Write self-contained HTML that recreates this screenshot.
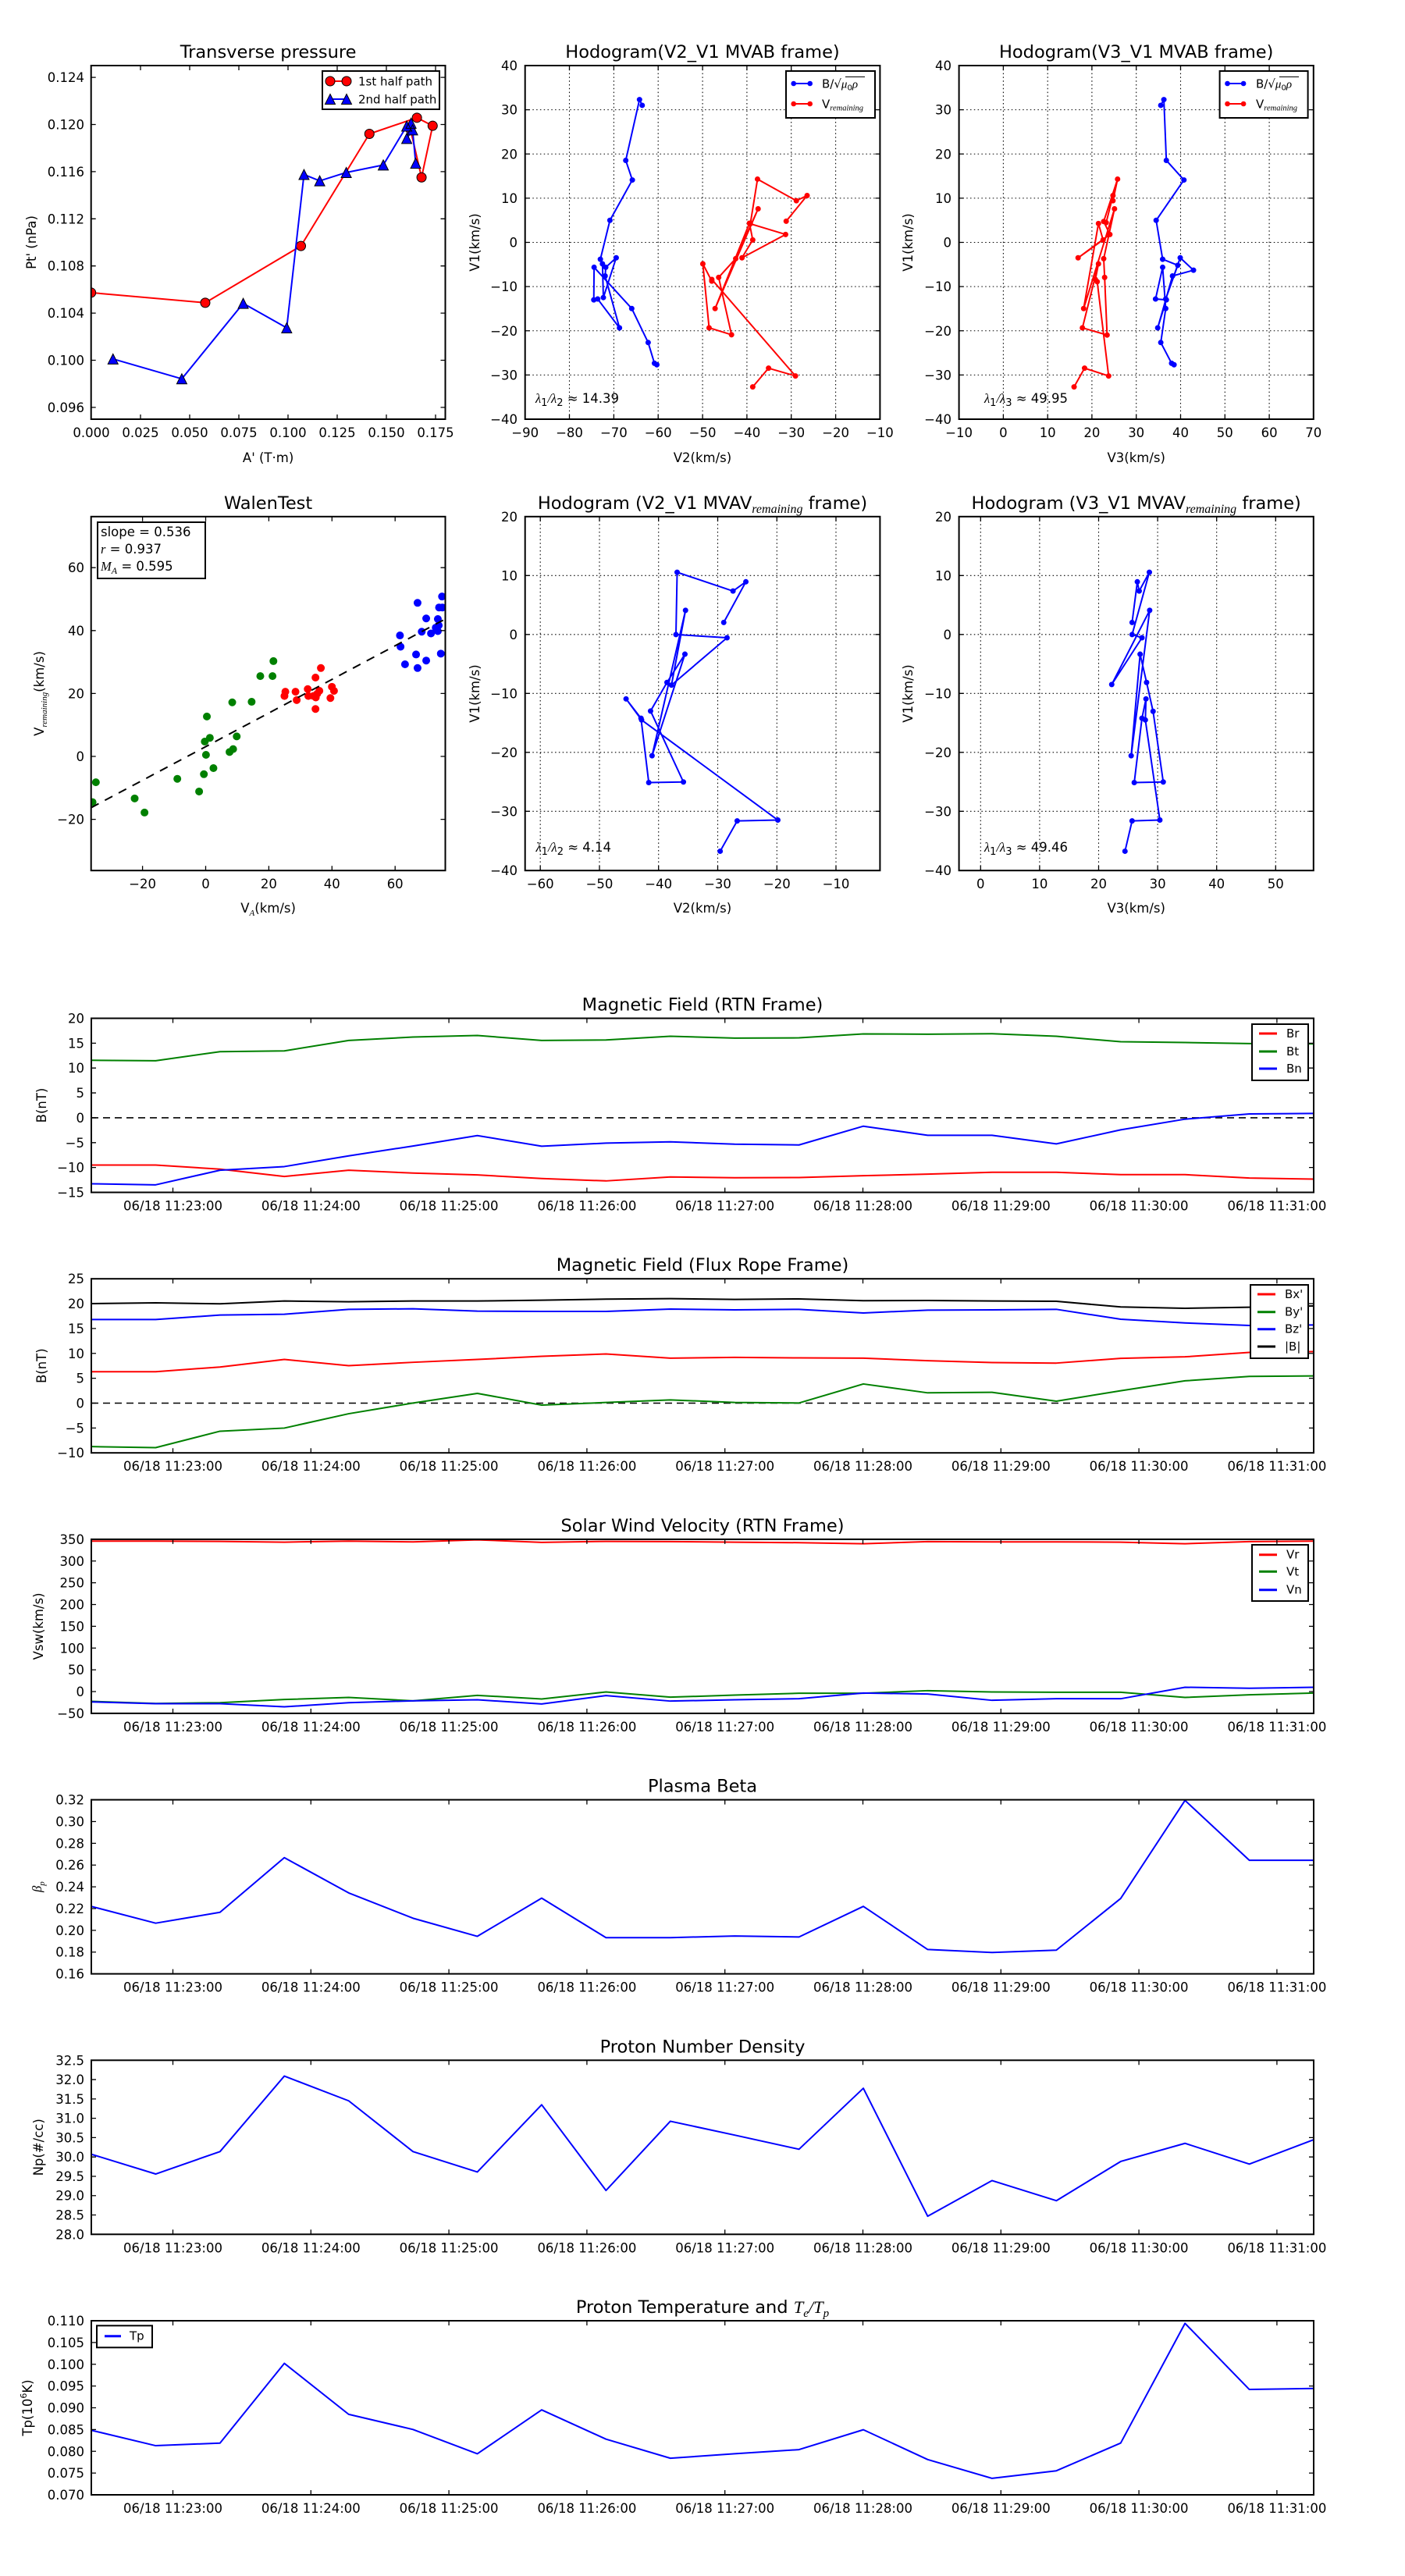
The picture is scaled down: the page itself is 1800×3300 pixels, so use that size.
<!DOCTYPE html>
<html><head><meta charset="utf-8">
<style>
html,body{margin:0;padding:0;background:#fff;}
svg{display:block;}
text{font-family:"DejaVu Sans","Liberation Sans",sans-serif;font-size:16.5px;fill:#000;}
.t{font-size:22.5px;text-anchor:middle;}
.xl{text-anchor:middle;}
.yl{text-anchor:end;}
.lg{font-size:15px;}
.m{font-family:"Liberation Serif","DejaVu Serif",serif;font-style:italic;}
.fr{fill:none;stroke:#000;stroke-width:2;}
.tk{fill:none;stroke:#000;stroke-width:1.3;}
.gr{fill:none;stroke:#000;stroke-width:1.1;stroke-dasharray:1.5 3.3;}
.ln{fill:none;stroke-width:2;stroke-linejoin:round;}
.dt{fill:none;stroke-linecap:round;}
.lb{fill:#fff;stroke:#000;stroke-width:2;}
</style></head>
<body>
<svg width="1800" height="3300" viewBox="0 0 1800 3300" xmlns="http://www.w3.org/2000/svg">
<rect width="1800" height="3300" fill="#fff"/>

<!-- ================= ROW 1 ================= -->
<g transform="translate(0,84)">
<!-- Panel 1: Transverse pressure -->
<text class="t" x="343.6" y="-10">Transverse pressure</text>
<svg x="116.7" y="0" width="453.8" height="453" viewBox="295 145 1148 1227" preserveAspectRatio="none">
<path class="ln" stroke="#f00" vector-effect="non-scaling-stroke" d="M295,933L665,968 975,771 1197,382 1351,326 1402,354 1366,533 1330,366"/>
<path class="dt" stroke="#000" stroke-width="13" vector-effect="non-scaling-stroke" d="M295,933h.01M665,968h.01M975,771h.01M1197,382h.01M1351,326h.01M1402,354h.01M1366,533h.01M1330,366h.01"/>
<path class="dt" stroke="#f00" stroke-width="11" vector-effect="non-scaling-stroke" d="M295,933h.01M665,968h.01M975,771h.01M1197,382h.01M1351,326h.01M1402,354h.01M1366,533h.01M1330,366h.01"/>
<path class="ln" stroke="#00f" vector-effect="non-scaling-stroke" d="M366,1163L589,1232 788,970 929,1055 985,523 1036,545 1122,516 1242,490 1318,355 1332,345 1318,398 1337,368 1347,484"/>
<path fill="#00f" stroke="#000" stroke-width="1" vector-effect="non-scaling-stroke" d="M366,1163m0,-17.6l16.45,35.2h-32.9zM589,1232m0,-17.6l16.45,35.2h-32.9zM788,970m0,-17.6l16.45,35.2h-32.9zM929,1055m0,-17.6l16.45,35.2h-32.9zM985,523m0,-17.6l16.45,35.2h-32.9zM1036,545m0,-17.6l16.45,35.2h-32.9zM1122,516m0,-17.6l16.45,35.2h-32.9zM1242,490m0,-17.6l16.45,35.2h-32.9zM1318,355m0,-17.6l16.45,35.2h-32.9zM1332,345m0,-17.6l16.45,35.2h-32.9zM1318,398m0,-17.6l16.45,35.2h-32.9zM1337,368m0,-17.6l16.45,35.2h-32.9zM1347,484m0,-17.6l16.45,35.2h-32.9z"/>
</svg>
<path class="tk" d="M180,453v-6M243,453v-6M306,453v-6M369,453v-6M432,453v-6M495,453v-6M558,453v-6M180,0v6M243,0v6M306,0v6M369,0v6M432,0v6M495,0v6M558,0v6M116.7,15.1h6M116.7,75.5h6M116.7,135.9h6M116.7,196.3h6M116.7,256.7h6M116.7,317.1h6M116.7,377.5h6M116.7,437.9h6M570.5,15.1h-6M570.5,75.5h-6M570.5,135.9h-6M570.5,196.3h-6M570.5,256.7h-6M570.5,317.1h-6M570.5,377.5h-6M570.5,437.9h-6"/>
<rect class="fr" x="116.7" y="0" width="453.8" height="453"/>
<text class="xl" x="117" y="476">0.000</text><text class="xl" x="180" y="476">0.025</text><text class="xl" x="243" y="476">0.050</text><text class="xl" x="306" y="476">0.075</text><text class="xl" x="369" y="476">0.100</text><text class="xl" x="432" y="476">0.125</text><text class="xl" x="495" y="476">0.150</text><text class="xl" x="558" y="476">0.175</text>
<text class="yl" x="108" y="21.1">0.124</text><text class="yl" x="108" y="81.5">0.120</text><text class="yl" x="108" y="141.9">0.116</text><text class="yl" x="108" y="202.3">0.112</text><text class="yl" x="108" y="262.7">0.108</text><text class="yl" x="108" y="323.1">0.104</text><text class="yl" x="108" y="383.5">0.100</text><text class="yl" x="108" y="443.9">0.096</text>
<text class="xl" x="343.6" y="508">A' (T·m)</text>
<text class="xl" transform="translate(46,226.5) rotate(-90)">Pt' (nPa)</text>
<!-- legend -->
<rect class="lb" x="413" y="7" width="150" height="49"/>
<path stroke="#f00" stroke-width="2" d="M423,20H444"/>
<circle cx="423" cy="20" r="6" fill="#f00" stroke="#000" stroke-width="1"/><circle cx="444" cy="20" r="6" fill="#f00" stroke="#000" stroke-width="1"/>
<text class="lg" x="459" y="25.5">1st half path</text>
<path stroke="#00f" stroke-width="2" d="M423,43H444"/>
<path fill="#00f" stroke="#000" stroke-width="1" d="M423,36.5l6.5,13h-13zM444,36.5l6.5,13h-13z"/>
<text class="lg" x="459" y="48.5">2nd half path</text>

<!-- Panel 2: Hodogram V2_V1 MVAB -->
<text class="t" x="900" y="-10">Hodogram(V2_V1 MVAB frame)</text>
<path class="gr" d="M729.5,0V453M786.4,0V453M843.2,0V453M900.1,0V453M956.9,0V453M1013.7,0V453M1070.6,0V453M672.7,56.63H1127.4M672.7,113.25H1127.4M672.7,169.88H1127.4M672.7,226.5H1127.4M672.7,283.13H1127.4M672.7,339.75H1127.4M672.7,396.38H1127.4"/>
<svg x="672.7" y="0" width="454.7" height="453" viewBox="190 145 1188 1227" preserveAspectRatio="none">
<path class="ln" stroke="#00f" vector-effect="non-scaling-stroke" d="M582,283L573,263 527,474 549,542 474,682 442,817 449,833 452,950 495,812 460,845 458,875 506,1055 433,955 420,958 421,845 547,988 602,1106 623,1178 631,1183"/>
<path class="dt" stroke="#00f" stroke-width="7" vector-effect="non-scaling-stroke" d="M582,283h.01M573,263h.01M527,474h.01M549,542h.01M474,682h.01M442,817h.01M449,833h.01M452,950h.01M495,812h.01M460,845h.01M458,875h.01M506,1055h.01M433,955h.01M420,958h.01M421,845h.01M547,988h.01M602,1106h.01M623,1178h.01M631,1183h.01"/>
<path class="ln" stroke="#f00" vector-effect="non-scaling-stroke" d="M952,1260L1005,1195 1095,1222 815,887 815,893 785,833 806,1055 881,1079 838,880 895,815 970,642 826,988 941,692 952,750 916,812 1062,731 944,694 968,539 1098,614 1134,596 1064,685"/>
<path class="dt" stroke="#f00" stroke-width="7" vector-effect="non-scaling-stroke" d="M952,1260h.01M1005,1195h.01M1095,1222h.01M815,887h.01M815,893h.01M785,833h.01M806,1055h.01M881,1079h.01M838,880h.01M895,815h.01M970,642h.01M826,988h.01M941,692h.01M952,750h.01M916,812h.01M1062,731h.01M944,694h.01M968,539h.01M1098,614h.01M1134,596h.01M1064,685h.01"/>
</svg>
<path class="tk" d="M729.5,453v-6M786.4,453v-6M843.2,453v-6M900.1,453v-6M956.9,453v-6M1013.7,453v-6M1070.6,453v-6M729.5,0v6M786.4,0v6M843.2,0v6M900.1,0v6M956.9,0v6M1013.7,0v6M1070.6,0v6M672.7,56.63h6M672.7,113.25h6M672.7,169.88h6M672.7,226.5h6M672.7,283.13h6M672.7,339.75h6M672.7,396.38h6M1127.4,56.63h-6M1127.4,113.25h-6M1127.4,169.88h-6M1127.4,226.5h-6M1127.4,283.13h-6M1127.4,339.75h-6M1127.4,396.38h-6"/>
<rect class="fr" x="672.7" y="0" width="454.7" height="453"/>
<text class="xl" x="672.7" y="476">−90</text><text class="xl" x="729.5" y="476">−80</text><text class="xl" x="786.4" y="476">−70</text><text class="xl" x="843.2" y="476">−60</text><text class="xl" x="900.1" y="476">−50</text><text class="xl" x="956.9" y="476">−40</text><text class="xl" x="1013.7" y="476">−30</text><text class="xl" x="1070.6" y="476">−20</text><text class="xl" x="1127.4" y="476">−10</text>
<text class="yl" x="663" y="6">40</text><text class="yl" x="663" y="62.6">30</text><text class="yl" x="663" y="119.3">20</text><text class="yl" x="663" y="175.9">10</text><text class="yl" x="663" y="232.5">0</text><text class="yl" x="663" y="289.1">−10</text><text class="yl" x="663" y="345.8">−20</text><text class="yl" x="663" y="402.4">−30</text><text class="yl" x="663" y="459">−40</text>
<text class="xl" x="900" y="508">V2(km/s)</text>
<text class="xl" transform="translate(614,226.5) rotate(-90)">V1(km/s)</text>
<text x="686" y="432" font-size="21"><tspan class="m">λ</tspan><tspan font-size="13" dy="4">1</tspan><tspan dy="-4" class="m">/</tspan><tspan class="m">λ</tspan><tspan font-size="13" dy="4">2</tspan><tspan dy="-4"> ≈ 14.39</tspan></text>
<rect class="lb" x="1007" y="7" width="114" height="60"/>
<path stroke="#00f" stroke-width="2" d="M1016.7,23H1037.7"/><circle cx="1016.7" cy="23" r="3.3" fill="#00f"/><circle cx="1037.7" cy="23" r="3.3" fill="#00f"/>
<text class="lg" x="1053" y="28.5">B/√<tspan class="m">μ</tspan><tspan font-size="10" dy="3">0</tspan><tspan class="m" dy="-3">ρ</tspan></text>
<path stroke="#000" stroke-width="1" d="M1083,14.5H1108"/>
<path stroke="#f00" stroke-width="2" d="M1016.7,49H1037.7"/><circle cx="1016.7" cy="49" r="3.3" fill="#f00"/><circle cx="1037.7" cy="49" r="3.3" fill="#f00"/>
<text class="lg" x="1053" y="54.5">V<tspan class="m" font-size="10.5" dy="3">remaining</tspan></text>

<!-- Panel 3: Hodogram V3_V1 MVAB -->
<text class="t" x="1455.7" y="-10">Hodogram(V3_V1 MVAB frame)</text>
<path class="gr" d="M1285.4,0V453M1342.2,0V453M1398.9,0V453M1455.7,0V453M1512.5,0V453M1569.3,0V453M1626.1,0V453M1228.6,56.63H1682.8M1228.6,113.25H1682.8M1228.6,169.88H1682.8M1228.6,226.5H1682.8M1228.6,283.13H1682.8M1228.6,339.75H1682.8M1228.6,396.38H1682.8"/>
<svg x="1228.6" y="0" width="454.2" height="453" viewBox="123 145 1149 1227" preserveAspectRatio="none">
<path class="ln" stroke="#00f" vector-effect="non-scaling-stroke" d="M777,283L787,263 795,474 852,542 762,682 783,817 832,838 793,955 840,812 883,855 815,875 767,1055 795,958 760,955 783,845 793,988 777,1106 812,1178 820,1183"/>
<path class="dt" stroke="#00f" stroke-width="7" vector-effect="non-scaling-stroke" d="M777,283h.01M787,263h.01M795,474h.01M852,542h.01M762,682h.01M783,817h.01M832,838h.01M793,955h.01M840,812h.01M883,855h.01M815,875h.01M767,1055h.01M795,958h.01M760,955h.01M783,845h.01M793,988h.01M777,1106h.01M812,1178h.01M820,1183h.01"/>
<path class="ln" stroke="#f00" vector-effect="non-scaling-stroke" d="M496,1260L530,1195 608,1222 571,895 565,887 575,833 523,1055 603,1080 595,880 592,815 627,642 527,988 575,693 590,750 509,812 612,731 592,686 637,539 622,614 622,596 600,690"/>
<path class="dt" stroke="#f00" stroke-width="7" vector-effect="non-scaling-stroke" d="M496,1260h.01M530,1195h.01M608,1222h.01M571,895h.01M565,887h.01M575,833h.01M523,1055h.01M603,1080h.01M595,880h.01M592,815h.01M627,642h.01M527,988h.01M575,693h.01M590,750h.01M509,812h.01M612,731h.01M592,686h.01M637,539h.01M622,614h.01M622,596h.01M600,690h.01"/>
</svg>
<path class="tk" d="M1285.4,453v-6M1342.2,453v-6M1398.9,453v-6M1455.7,453v-6M1512.5,453v-6M1569.3,453v-6M1626.1,453v-6M1285.4,0v6M1342.2,0v6M1398.9,0v6M1455.7,0v6M1512.5,0v6M1569.3,0v6M1626.1,0v6M1228.6,56.63h6M1228.6,113.25h6M1228.6,169.88h6M1228.6,226.5h6M1228.6,283.13h6M1228.6,339.75h6M1228.6,396.38h6M1682.8,56.63h-6M1682.8,113.25h-6M1682.8,169.88h-6M1682.8,226.5h-6M1682.8,283.13h-6M1682.8,339.75h-6M1682.8,396.38h-6"/>
<rect class="fr" x="1228.6" y="0" width="454.2" height="453"/>
<text class="xl" x="1228.6" y="476">−10</text><text class="xl" x="1285.4" y="476">0</text><text class="xl" x="1342.2" y="476">10</text><text class="xl" x="1398.9" y="476">20</text><text class="xl" x="1455.7" y="476">30</text><text class="xl" x="1512.5" y="476">40</text><text class="xl" x="1569.3" y="476">50</text><text class="xl" x="1626.1" y="476">60</text><text class="xl" x="1682.8" y="476">70</text>
<text class="yl" x="1219" y="6">40</text><text class="yl" x="1219" y="62.6">30</text><text class="yl" x="1219" y="119.3">20</text><text class="yl" x="1219" y="175.9">10</text><text class="yl" x="1219" y="232.5">0</text><text class="yl" x="1219" y="289.1">−10</text><text class="yl" x="1219" y="345.8">−20</text><text class="yl" x="1219" y="402.4">−30</text><text class="yl" x="1219" y="459">−40</text>
<text class="xl" x="1455.7" y="508">V3(km/s)</text>
<text class="xl" transform="translate(1169,226.5) rotate(-90)">V1(km/s)</text>
<text x="1261" y="432" font-size="21"><tspan class="m">λ</tspan><tspan font-size="13" dy="4">1</tspan><tspan dy="-4" class="m">/</tspan><tspan class="m">λ</tspan><tspan font-size="13" dy="4">3</tspan><tspan dy="-4"> ≈ 49.95</tspan></text>
<rect class="lb" x="1562.6" y="7" width="113" height="60"/>
<path stroke="#00f" stroke-width="2" d="M1572.5,23H1593.1"/><circle cx="1572.5" cy="23" r="3.3" fill="#00f"/><circle cx="1593.1" cy="23" r="3.3" fill="#00f"/>
<text class="lg" x="1609" y="28.5">B/√<tspan class="m">μ</tspan><tspan font-size="10" dy="3">0</tspan><tspan class="m" dy="-3">ρ</tspan></text>
<path stroke="#000" stroke-width="1" d="M1639,14.5H1664"/>
<path stroke="#f00" stroke-width="2" d="M1572.5,49H1593.1"/><circle cx="1572.5" cy="49" r="3.3" fill="#f00"/><circle cx="1593.1" cy="49" r="3.3" fill="#f00"/>
<text class="lg" x="1609" y="54.5">V<tspan class="m" font-size="10.5" dy="3">remaining</tspan></text>
</g>

<!-- ================= ROW 2 ================= -->
<g transform="translate(0,661.8)">
<!-- WalenTest -->
<text class="t" x="343.6" y="-10">WalenTest</text>
<svg x="116.7" y="0" width="453.8" height="453.4" viewBox="305 113 1187 1227" preserveAspectRatio="none">
<path class="dt" stroke="#008000" stroke-width="10" vector-effect="non-scaling-stroke" d="M310,1103h.01M321,1034h.01M451,1090h.01M484,1139h.01M594,1022h.01M667,1066h.01M683,1006h.01M690,939h.01M686,893h.01M693,806h.01M703,880h.01M715,985h.01M769,929h.01M781,919h.01M778,757h.01M793,875h.01M843,755h.01M872,666h.01M913,666h.01M916,614h.01"/>
<path class="dt" stroke="#f00" stroke-width="10" vector-effect="non-scaling-stroke" d="M953,735h.01M956,720h.01M990,720h.01M994,749h.01M1031,711h.01M1033,735h.01M1057,671h.01M1057,780h.01M1058,740h.01M1063,727h.01M1070,717h.01M1075,638h.01M1107,742h.01M1112,703h.01M1119,717h.01M1050,735h.01"/>
<path class="dt" stroke="#00f" stroke-width="10" vector-effect="non-scaling-stroke" d="M1340,525h.01M1342,564h.01M1357,625h.01M1394,591h.01M1399,412h.01M1399,638h.01M1413,512h.01M1428,466h.01M1428,612h.01M1444,518h.01M1460,498h.01M1467,510h.01M1467,468h.01M1471,428h.01M1477,588h.01M1481,390h.01M1482,428h.01M1470,490h.01"/>
</svg>
<path fill="none" stroke="#000" stroke-width="2" stroke-dasharray="11 9" d="M116.7,372.9L570.5,131.2"/>
<path class="tk" d="M182.6,453.4v-6M263.5,453.4v-6M344.4,453.4v-6M425.3,453.4v-6M506.2,453.4v-6M182.6,0v6M263.5,0v6M344.4,0v6M425.3,0v6M506.2,0v6M116.7,65.4h6M116.7,146h6M116.7,226.6h6M116.7,307.2h6M116.7,387.8h6M570.5,65.4h-6M570.5,146h-6M570.5,226.6h-6M570.5,307.2h-6M570.5,387.8h-6"/>
<rect class="fr" x="116.7" y="0" width="453.8" height="453.4"/>
<rect class="lb" x="125" y="7.2" width="138" height="72"/>
<text x="129" y="25" font-size="18">slope = 0.536</text>
<text x="129" y="47" font-size="18"><tspan class="m">r</tspan> = 0.937</text>
<text x="129" y="69" font-size="18"><tspan class="m">M</tspan><tspan class="m" font-size="12" dy="4">A</tspan><tspan dy="-4"> = 0.595</tspan></text>
<text class="xl" x="182.6" y="476">−20</text><text class="xl" x="263.5" y="476">0</text><text class="xl" x="344.4" y="476">20</text><text class="xl" x="425.3" y="476">40</text><text class="xl" x="506.2" y="476">60</text>
<text class="yl" x="108" y="71.4">60</text><text class="yl" x="108" y="152">40</text><text class="yl" x="108" y="232.6">20</text><text class="yl" x="108" y="313.2">0</text><text class="yl" x="108" y="393.8">−20</text>
<text class="xl" x="343.6" y="507">V<tspan class="m" font-size="11" dy="4">A</tspan><tspan dy="-4">(km/s)</tspan></text>
<text class="xl" transform="translate(56,226.7) rotate(-90)">V<tspan class="m" font-size="11" dy="4">remaining</tspan><tspan dy="-4">(km/s)</tspan></text>

<!-- Panel 5: Hodogram V2_V1 MVAV -->
<text class="t" x="900" y="-10">Hodogram (V2_V1 MVAV<tspan class="m" font-size="16" dy="5">remaining</tspan><tspan dy="-5"> frame)</tspan></text>
<path class="gr" d="M692.2,0V453.4M768,0V453.4M843.7,0V453.4M919.5,0V453.4M995.3,0V453.4M1071,0V453.4M672.7,75.5H1127.4M672.7,151H1127.4M672.7,226.5H1127.4M672.7,302H1127.4M672.7,377.5H1127.4"/>
<svg x="672.7" y="0" width="454.7" height="453.4" viewBox="190 113 1188 1227" preserveAspectRatio="none">
<path class="ln" stroke="#00f" vector-effect="non-scaling-stroke" d="M855,480L929,339 886,371 699,306 695,522 866,533 680,697 727,438 615,942 725,590 665,688 610,787 720,1033 604,1035 578,812 528,745 580,818 1036,1165 900,1168 843,1273"/>
<path class="dt" stroke="#00f" stroke-width="7" vector-effect="non-scaling-stroke" d="M855,480h.01M929,339h.01M886,371h.01M699,306h.01M695,522h.01M866,533h.01M680,697h.01M727,438h.01M615,942h.01M725,590h.01M665,688h.01M610,787h.01M720,1033h.01M604,1035h.01M578,812h.01M528,745h.01M580,818h.01M1036,1165h.01M900,1168h.01M843,1273h.01"/>
</svg>
<path class="tk" d="M692.2,453.4v-6M768,453.4v-6M843.7,453.4v-6M919.5,453.4v-6M995.3,453.4v-6M1071,453.4v-6M692.2,0v6M768,0v6M843.7,0v6M919.5,0v6M995.3,0v6M1071,0v6M672.7,75.5h6M672.7,151h6M672.7,226.5h6M672.7,302h6M672.7,377.5h6M1127.4,75.5h-6M1127.4,151h-6M1127.4,226.5h-6M1127.4,302h-6M1127.4,377.5h-6"/>
<rect class="fr" x="672.7" y="0" width="454.7" height="453.4"/>
<text class="xl" x="692.2" y="476">−60</text><text class="xl" x="768" y="476">−50</text><text class="xl" x="843.7" y="476">−40</text><text class="xl" x="919.5" y="476">−30</text><text class="xl" x="995.3" y="476">−20</text><text class="xl" x="1071" y="476">−10</text>
<text class="yl" x="663" y="6">20</text><text class="yl" x="663" y="81.5">10</text><text class="yl" x="663" y="157">0</text><text class="yl" x="663" y="232.5">−10</text><text class="yl" x="663" y="308">−20</text><text class="yl" x="663" y="383.5">−30</text><text class="yl" x="663" y="459">−40</text>
<text class="xl" x="900" y="507">V2(km/s)</text>
<text class="xl" transform="translate(614,226.7) rotate(-90)">V1(km/s)</text>
<text x="686.5" y="429" font-size="21"><tspan class="m">λ</tspan><tspan font-size="13" dy="4">1</tspan><tspan dy="-4" class="m">/</tspan><tspan class="m">λ</tspan><tspan font-size="13" dy="4">2</tspan><tspan dy="-4"> ≈ 4.14</tspan></text>

<!-- Panel 6: Hodogram V3_V1 MVAV -->
<text class="t" x="1455.7" y="-10">Hodogram (V3_V1 MVAV<tspan class="m" font-size="16" dy="5">remaining</tspan><tspan dy="-5"> frame)</tspan></text>
<path class="gr" d="M1256.3,0V453.4M1331.9,0V453.4M1407.5,0V453.4M1483.1,0V453.4M1558.7,0V453.4M1634.3,0V453.4M1228.6,75.5H1682.8M1228.6,151H1682.8M1228.6,226.5H1682.8M1228.6,302H1682.8M1228.6,377.5H1682.8"/>
<svg x="1228.6" y="0" width="454.2" height="453.4" viewBox="123 113 1149 1227" preserveAspectRatio="none">
<path class="ln" stroke="#00f" vector-effect="non-scaling-stroke" d="M684,480L701,339 707,371 740,306 684,522 716,533 618,695 741,438 681,942 710,590 731,688 752,788 785,1033 691,1035 716,812 729,745 727,818 774,1165 684,1168 661,1273"/>
<path class="dt" stroke="#00f" stroke-width="7" vector-effect="non-scaling-stroke" d="M684,480h.01M701,339h.01M707,371h.01M740,306h.01M684,522h.01M716,533h.01M618,695h.01M741,438h.01M681,942h.01M710,590h.01M731,688h.01M752,788h.01M785,1033h.01M691,1035h.01M716,812h.01M729,745h.01M727,818h.01M774,1165h.01M684,1168h.01M661,1273h.01"/>
</svg>
<path class="tk" d="M1256.3,453.4v-6M1331.9,453.4v-6M1407.5,453.4v-6M1483.1,453.4v-6M1558.7,453.4v-6M1634.3,453.4v-6M1256.3,0v6M1331.9,0v6M1407.5,0v6M1483.1,0v6M1558.7,0v6M1634.3,0v6M1228.6,75.5h6M1228.6,151h6M1228.6,226.5h6M1228.6,302h6M1228.6,377.5h6M1682.8,75.5h-6M1682.8,151h-6M1682.8,226.5h-6M1682.8,302h-6M1682.8,377.5h-6"/>
<rect class="fr" x="1228.6" y="0" width="454.2" height="453.4"/>
<text class="xl" x="1256.3" y="476">0</text><text class="xl" x="1331.9" y="476">10</text><text class="xl" x="1407.5" y="476">20</text><text class="xl" x="1483.1" y="476">30</text><text class="xl" x="1558.7" y="476">40</text><text class="xl" x="1634.3" y="476">50</text>
<text class="yl" x="1219" y="6">20</text><text class="yl" x="1219" y="81.5">10</text><text class="yl" x="1219" y="157">0</text><text class="yl" x="1219" y="232.5">−10</text><text class="yl" x="1219" y="308">−20</text><text class="yl" x="1219" y="383.5">−30</text><text class="yl" x="1219" y="459">−40</text>
<text class="xl" x="1455.7" y="507">V3(km/s)</text>
<text class="xl" transform="translate(1169,226.7) rotate(-90)">V1(km/s)</text>
<text x="1261" y="429" font-size="21"><tspan class="m">λ</tspan><tspan font-size="13" dy="4">1</tspan><tspan dy="-4" class="m">/</tspan><tspan class="m">λ</tspan><tspan font-size="13" dy="4">3</tspan><tspan dy="-4"> ≈ 49.46</tspan></text>
</g>

<!-- ================= TIME SERIES ================= -->
<!-- 1: Magnetic Field RTN -->
<g transform="translate(0,1304.5)">
<text class="t" x="900" y="-10">Magnetic Field (RTN Frame)</text>
<path fill="none" stroke="#000" stroke-width="1.6" stroke-dasharray="9 6" d="M117,127.43H1683"/>
<svg x="117" y="0" width="1566" height="223" viewBox="0 73 19 668" preserveAspectRatio="none">
<path class="ln" stroke="#f00" stroke-width="2.6" vector-effect="non-scaling-stroke" d="M0,636L1,636 2,652 3,680 4,656 5,667 6,674 7,688 8,697 9,682 10,685 11,684 12,677 13,671 14,664 15,664 16,673 17,673 18,686 19,690"/>
<path class="ln" stroke="#008000" stroke-width="2.6" vector-effect="non-scaling-stroke" d="M0,234L1,236 2,201 3,198 4,158 5,145 6,139 7,158 8,156 9,142 10,149 11,148 12,133 13,134 14,132 15,142 16,163 17,166 18,170 19,171"/>
<path class="ln" stroke="#00f" stroke-width="2.6" vector-effect="non-scaling-stroke" d="M0,708L1,712 2,656 3,642 4,601 5,563 6,523 7,564 8,552 9,547 10,556 11,559 12,487 13,522 14,522 15,555 16,501 17,460 18,440 19,438"/>
</svg>
<path class="tk" d="M221.5,223v-6M398.3,223v-6M575.1,223v-6M751.9,223v-6M928.7,223v-6M1105.5,223v-6M1282.3,223v-6M1459.1,223v-6M1635.9,223v-6M221.5,0v6M398.3,0v6M575.1,0v6M751.9,0v6M928.7,0v6M1105.5,0v6M1282.3,0v6M1459.1,0v6M1635.9,0v6M117,31.86h6M117,63.71h6M117,95.57h6M117,127.43h6M117,159.29h6M117,191.14h6M1683,31.86h-6M1683,63.71h-6M1683,95.57h-6M1683,127.43h-6M1683,159.29h-6M1683,191.14h-6"/>
<rect class="fr" x="117" y="0" width="1566" height="223"/>
<rect class="lb" x="1604" y="7.5" width="72" height="72"/>
<path stroke="#f00" stroke-width="3" d="M1613,19.5H1636"/><text class="lg" x="1648" y="24.5">Br</text>
<path stroke="#008000" stroke-width="3" d="M1613,42.5H1636"/><text class="lg" x="1648" y="47.5">Bt</text>
<path stroke="#00f" stroke-width="3" d="M1613,64.5H1636"/><text class="lg" x="1648" y="69.5">Bn</text>
<text class="yl" x="108" y="6">20</text><text class="yl" x="108" y="37.86">15</text><text class="yl" x="108" y="69.71">10</text><text class="yl" x="108" y="101.57">5</text><text class="yl" x="108" y="133.43">0</text><text class="yl" x="108" y="165.29">−5</text><text class="yl" x="108" y="197.14">−10</text><text class="yl" x="108" y="229">−15</text>
<text class="xl" transform="translate(59,111.5) rotate(-90)">B(nT)</text>
<text class="xl" x="221.5" y="246">06/18 11:23:00</text><text class="xl" x="398.3" y="246">06/18 11:24:00</text><text class="xl" x="575.1" y="246">06/18 11:25:00</text><text class="xl" x="751.9" y="246">06/18 11:26:00</text><text class="xl" x="928.7" y="246">06/18 11:27:00</text><text class="xl" x="1105.5" y="246">06/18 11:28:00</text><text class="xl" x="1282.3" y="246">06/18 11:29:00</text><text class="xl" x="1459.1" y="246">06/18 11:30:00</text><text class="xl" x="1635.9" y="246">06/18 11:31:00</text>
</g>

<!-- 2: Magnetic Field Flux Rope -->
<g transform="translate(0,1638.2)">
<text class="t" x="900" y="-10">Magnetic Field (Flux Rope Frame)</text>
<path fill="none" stroke="#000" stroke-width="1.6" stroke-dasharray="9 6" d="M117,159.29H1683"/>
<svg x="117" y="0" width="1566" height="223" viewBox="0 71 19 667" preserveAspectRatio="none">
<path class="ln" stroke="#f00" stroke-width="2.6" vector-effect="non-scaling-stroke" d="M0,427L1,427 2,409 3,380 4,404 5,391 6,380 7,368 8,359 9,375 10,372 11,374 12,375 13,385 14,392 15,394 16,376 17,370 18,353 19,350"/>
<path class="ln" stroke="#008000" stroke-width="2.6" vector-effect="non-scaling-stroke" d="M0,714L1,718 2,655 3,643 4,588 5,547 6,510 7,555 8,545 9,535 10,545 11,547 12,474 13,508 14,506 15,540 16,500 17,462 18,445 19,443"/>
<path class="ln" stroke="#00f" stroke-width="2.6" vector-effect="non-scaling-stroke" d="M0,227L1,227 2,210 3,207 4,188 5,186 6,195 7,196 8,196 9,187 10,190 11,188 12,202 13,191 14,190 15,188 16,226 17,240 18,250 19,248"/>
<path class="ln" stroke="#000" stroke-width="2.6" vector-effect="non-scaling-stroke" d="M0,166L1,163 2,167 3,156 4,159 5,156 6,156 7,153 8,149 9,147 10,150 11,148 12,155 13,154 14,156 15,157 16,179 17,184 18,180 19,175"/>
</svg>
<path class="tk" d="M221.5,223v-6M398.3,223v-6M575.1,223v-6M751.9,223v-6M928.7,223v-6M1105.5,223v-6M1282.3,223v-6M1459.1,223v-6M1635.9,223v-6M221.5,0v6M398.3,0v6M575.1,0v6M751.9,0v6M928.7,0v6M1105.5,0v6M1282.3,0v6M1459.1,0v6M1635.9,0v6M117,31.86h6M117,63.71h6M117,95.57h6M117,127.43h6M117,159.29h6M117,191.14h6M1683,31.86h-6M1683,63.71h-6M1683,95.57h-6M1683,127.43h-6M1683,159.29h-6M1683,191.14h-6"/>
<rect class="fr" x="117" y="0" width="1566" height="223"/>
<rect class="lb" x="1602" y="7.8" width="74" height="94"/>
<path stroke="#f00" stroke-width="3" d="M1611,19.8H1634"/><text class="lg" x="1646" y="24.8">Bx'</text>
<path stroke="#008000" stroke-width="3" d="M1611,42.5H1634"/><text class="lg" x="1646" y="47.5">By'</text>
<path stroke="#00f" stroke-width="3" d="M1611,64.5H1634"/><text class="lg" x="1646" y="69.5">Bz'</text>
<path stroke="#000" stroke-width="3" d="M1611,86.8H1634"/><text class="lg" x="1646" y="91.8">|B|</text>
<text class="yl" x="108" y="6">25</text><text class="yl" x="108" y="37.86">20</text><text class="yl" x="108" y="69.71">15</text><text class="yl" x="108" y="101.57">10</text><text class="yl" x="108" y="133.43">5</text><text class="yl" x="108" y="165.29">0</text><text class="yl" x="108" y="197.14">−5</text><text class="yl" x="108" y="229">−10</text>
<text class="xl" transform="translate(59,111.5) rotate(-90)">B(nT)</text>
<text class="xl" x="221.5" y="246">06/18 11:23:00</text><text class="xl" x="398.3" y="246">06/18 11:24:00</text><text class="xl" x="575.1" y="246">06/18 11:25:00</text><text class="xl" x="751.9" y="246">06/18 11:26:00</text><text class="xl" x="928.7" y="246">06/18 11:27:00</text><text class="xl" x="1105.5" y="246">06/18 11:28:00</text><text class="xl" x="1282.3" y="246">06/18 11:29:00</text><text class="xl" x="1459.1" y="246">06/18 11:30:00</text><text class="xl" x="1635.9" y="246">06/18 11:31:00</text>
</g>

<!-- 3: Solar Wind Velocity -->
<g transform="translate(0,1971.9)">
<text class="t" x="900" y="-10">Solar Wind Velocity (RTN Frame)</text>
<svg x="117" y="0" width="1566" height="223" viewBox="0 65 19 667" preserveAspectRatio="none">
<path class="ln" stroke="#f00" stroke-width="2.6" vector-effect="non-scaling-stroke" d="M0,72L1,72 2,73 3,76 4,72 5,75 6,67 7,77 8,73 9,74 10,76 11,78 12,82 13,74 14,75 15,75 16,76 17,82 18,74 19,72"/>
<path class="ln" stroke="#008000" stroke-width="2.6" vector-effect="non-scaling-stroke" d="M0,686L1,694 2,691 3,679 4,671 5,684 6,663 7,677 8,650 9,670 10,662 11,655 12,655 13,645 14,650 15,651 16,651 17,671 18,661 19,654"/>
<path class="ln" stroke="#00f" stroke-width="2.6" vector-effect="non-scaling-stroke" d="M0,688L1,695 2,695 3,707 4,691 5,684 6,680 7,696 8,664 9,685 10,680 11,676 12,654 13,658 14,682 15,676 16,676 17,632 18,636 19,632"/>
</svg>
<path class="tk" d="M221.5,223v-6M398.3,223v-6M575.1,223v-6M751.9,223v-6M928.7,223v-6M1105.5,223v-6M1282.3,223v-6M1459.1,223v-6M1635.9,223v-6M221.5,0v6M398.3,0v6M575.1,0v6M751.9,0v6M928.7,0v6M1105.5,0v6M1282.3,0v6M1459.1,0v6M1635.9,0v6M117,27.88h6M117,55.75h6M117,83.63h6M117,111.5h6M117,139.38h6M117,167.25h6M117,195.13h6M1683,27.88h-6M1683,55.75h-6M1683,83.63h-6M1683,111.5h-6M1683,139.38h-6M1683,167.25h-6M1683,195.13h-6"/>
<rect class="fr" x="117" y="0" width="1566" height="223"/>
<rect class="lb" x="1604" y="7.1" width="72" height="72"/>
<path stroke="#f00" stroke-width="3" d="M1613,19.8H1636"/><text class="lg" x="1648" y="24.8">Vr</text>
<path stroke="#008000" stroke-width="3" d="M1613,41.4H1636"/><text class="lg" x="1648" y="46.4">Vt</text>
<path stroke="#00f" stroke-width="3" d="M1613,64.8H1636"/><text class="lg" x="1648" y="69.8">Vn</text>
<text class="yl" x="108" y="6">350</text><text class="yl" x="108" y="33.88">300</text><text class="yl" x="108" y="61.75">250</text><text class="yl" x="108" y="89.63">200</text><text class="yl" x="108" y="117.5">150</text><text class="yl" x="108" y="145.38">100</text><text class="yl" x="108" y="173.25">50</text><text class="yl" x="108" y="201.13">0</text><text class="yl" x="108" y="229">−50</text>
<text class="xl" transform="translate(55,111.5) rotate(-90)">Vsw(km/s)</text>
<text class="xl" x="221.5" y="246">06/18 11:23:00</text><text class="xl" x="398.3" y="246">06/18 11:24:00</text><text class="xl" x="575.1" y="246">06/18 11:25:00</text><text class="xl" x="751.9" y="246">06/18 11:26:00</text><text class="xl" x="928.7" y="246">06/18 11:27:00</text><text class="xl" x="1105.5" y="246">06/18 11:28:00</text><text class="xl" x="1282.3" y="246">06/18 11:29:00</text><text class="xl" x="1459.1" y="246">06/18 11:30:00</text><text class="xl" x="1635.9" y="246">06/18 11:31:00</text>
</g>

<!-- 4: Plasma Beta -->
<g transform="translate(0,2305.6)">
<text class="t" x="900" y="-10">Plasma Beta</text>
<svg x="117" y="0" width="1566" height="223" viewBox="0 48 19 529" preserveAspectRatio="none">
<path class="ln" stroke="#00f" stroke-width="1.7" vector-effect="non-scaling-stroke" d="M0,372L1,423 2,390 3,224 4,331 5,408 6,463 7,347 8,467 9,467 10,462 11,465 12,372 13,503 14,512 15,505 16,348 17,50 18,232 19,232"/>
</svg>
<path class="tk" d="M221.5,223v-6M398.3,223v-6M575.1,223v-6M751.9,223v-6M928.7,223v-6M1105.5,223v-6M1282.3,223v-6M1459.1,223v-6M1635.9,223v-6M221.5,0v6M398.3,0v6M575.1,0v6M751.9,0v6M928.7,0v6M1105.5,0v6M1282.3,0v6M1459.1,0v6M1635.9,0v6M117,27.88h6M117,55.75h6M117,83.63h6M117,111.5h6M117,139.38h6M117,167.25h6M117,195.13h6M1683,27.88h-6M1683,55.75h-6M1683,83.63h-6M1683,111.5h-6M1683,139.38h-6M1683,167.25h-6M1683,195.13h-6"/>
<rect class="fr" x="117" y="0" width="1566" height="223"/>
<text class="yl" x="108" y="6">0.32</text><text class="yl" x="108" y="33.88">0.30</text><text class="yl" x="108" y="61.75">0.28</text><text class="yl" x="108" y="89.63">0.26</text><text class="yl" x="108" y="117.5">0.24</text><text class="yl" x="108" y="145.38">0.22</text><text class="yl" x="108" y="173.25">0.20</text><text class="yl" x="108" y="201.13">0.18</text><text class="yl" x="108" y="229">0.16</text>
<text class="xl" transform="translate(53,111.5) rotate(-90)"><tspan class="m">β</tspan><tspan class="m" font-size="11" dy="4">p</tspan></text>
<text class="xl" x="221.5" y="246">06/18 11:23:00</text><text class="xl" x="398.3" y="246">06/18 11:24:00</text><text class="xl" x="575.1" y="246">06/18 11:25:00</text><text class="xl" x="751.9" y="246">06/18 11:26:00</text><text class="xl" x="928.7" y="246">06/18 11:27:00</text><text class="xl" x="1105.5" y="246">06/18 11:28:00</text><text class="xl" x="1282.3" y="246">06/18 11:29:00</text><text class="xl" x="1459.1" y="246">06/18 11:30:00</text><text class="xl" x="1635.9" y="246">06/18 11:31:00</text>
</g>

<!-- 5: Proton Number Density -->
<g transform="translate(0,2639.3)">
<text class="t" x="900" y="-10">Proton Number Density</text>
<svg x="117" y="0" width="1566" height="223" viewBox="0 840 19 528" preserveAspectRatio="none">
<path class="ln" stroke="#00f" stroke-width="1.7" vector-effect="non-scaling-stroke" d="M0,1125L1,1185 2,1117 3,888 4,963 5,1117 6,1179 7,975 8,1235 9,1025 10,1067 11,1110 12,925 13,1313 14,1205 15,1266 16,1147 17,1092 18,1155 19,1081"/>
</svg>
<path class="tk" d="M221.5,223v-6M398.3,223v-6M575.1,223v-6M751.9,223v-6M928.7,223v-6M1105.5,223v-6M1282.3,223v-6M1459.1,223v-6M1635.9,223v-6M221.5,0v6M398.3,0v6M575.1,0v6M751.9,0v6M928.7,0v6M1105.5,0v6M1282.3,0v6M1459.1,0v6M1635.9,0v6M117,24.78h6M117,49.56h6M117,74.33h6M117,99.11h6M117,123.89h6M117,148.67h6M117,173.44h6M117,198.22h6M1683,24.78h-6M1683,49.56h-6M1683,74.33h-6M1683,99.11h-6M1683,123.89h-6M1683,148.67h-6M1683,173.44h-6M1683,198.22h-6"/>
<rect class="fr" x="117" y="0" width="1566" height="223"/>
<text class="yl" x="108" y="6">32.5</text><text class="yl" x="108" y="30.78">32.0</text><text class="yl" x="108" y="55.56">31.5</text><text class="yl" x="108" y="80.33">31.0</text><text class="yl" x="108" y="105.11">30.5</text><text class="yl" x="108" y="129.89">30.0</text><text class="yl" x="108" y="154.67">29.5</text><text class="yl" x="108" y="179.44">29.0</text><text class="yl" x="108" y="204.22">28.5</text><text class="yl" x="108" y="229">28.0</text>
<text class="xl" transform="translate(55,111.5) rotate(-90)">Np(#/cc)</text>
<text class="xl" x="221.5" y="246">06/18 11:23:00</text><text class="xl" x="398.3" y="246">06/18 11:24:00</text><text class="xl" x="575.1" y="246">06/18 11:25:00</text><text class="xl" x="751.9" y="246">06/18 11:26:00</text><text class="xl" x="928.7" y="246">06/18 11:27:00</text><text class="xl" x="1105.5" y="246">06/18 11:28:00</text><text class="xl" x="1282.3" y="246">06/18 11:29:00</text><text class="xl" x="1459.1" y="246">06/18 11:30:00</text><text class="xl" x="1635.9" y="246">06/18 11:31:00</text>
</g>

<!-- 6: Proton Temperature -->
<g transform="translate(0,2973)">
<text class="t" x="900" y="-10">Proton Temperature and <tspan class="m">T</tspan><tspan class="m" font-size="15" dy="5">e</tspan><tspan class="m" dy="-5">/T</tspan><tspan class="m" font-size="15" dy="5">p</tspan></text>
<svg x="117" y="0" width="1566" height="223" viewBox="0 53 19 666" preserveAspectRatio="none">
<path class="ln" stroke="#00f" stroke-width="1.8" vector-effect="non-scaling-stroke" d="M0,472L1,531 2,521 3,216 4,411 5,469 6,562 7,394 8,506 9,579 10,562 11,546 12,470 13,584 14,656 15,627 16,521 17,63 18,316 19,312"/>
</svg>
<path class="tk" d="M221.5,223v-6M398.3,223v-6M575.1,223v-6M751.9,223v-6M928.7,223v-6M1105.5,223v-6M1282.3,223v-6M1459.1,223v-6M1635.9,223v-6M221.5,0v6M398.3,0v6M575.1,0v6M751.9,0v6M928.7,0v6M1105.5,0v6M1282.3,0v6M1459.1,0v6M1635.9,0v6M117,27.88h6M117,55.75h6M117,83.63h6M117,111.5h6M117,139.38h6M117,167.25h6M117,195.13h6M1683,27.88h-6M1683,55.75h-6M1683,83.63h-6M1683,111.5h-6M1683,139.38h-6M1683,167.25h-6M1683,195.13h-6"/>
<rect class="fr" x="117" y="0" width="1566" height="223"/>
<rect class="lb" x="124" y="6.3" width="71" height="28"/>
<path stroke="#00f" stroke-width="3" d="M134,19.7H155"/><text class="lg" x="166" y="24.7">Tp</text>
<text class="yl" x="108" y="6">0.110</text><text class="yl" x="108" y="33.88">0.105</text><text class="yl" x="108" y="61.75">0.100</text><text class="yl" x="108" y="89.63">0.095</text><text class="yl" x="108" y="117.5">0.090</text><text class="yl" x="108" y="145.38">0.085</text><text class="yl" x="108" y="173.25">0.080</text><text class="yl" x="108" y="201.13">0.075</text><text class="yl" x="108" y="229">0.070</text>
<text class="xl" transform="translate(41,111.5) rotate(-90)">Tp(10<tspan font-size="11" dy="-7">6</tspan><tspan dy="7">K)</tspan></text>
<text class="xl" x="221.5" y="246">06/18 11:23:00</text><text class="xl" x="398.3" y="246">06/18 11:24:00</text><text class="xl" x="575.1" y="246">06/18 11:25:00</text><text class="xl" x="751.9" y="246">06/18 11:26:00</text><text class="xl" x="928.7" y="246">06/18 11:27:00</text><text class="xl" x="1105.5" y="246">06/18 11:28:00</text><text class="xl" x="1282.3" y="246">06/18 11:29:00</text><text class="xl" x="1459.1" y="246">06/18 11:30:00</text><text class="xl" x="1635.9" y="246">06/18 11:31:00</text>
</g>
</svg>
</body></html>
